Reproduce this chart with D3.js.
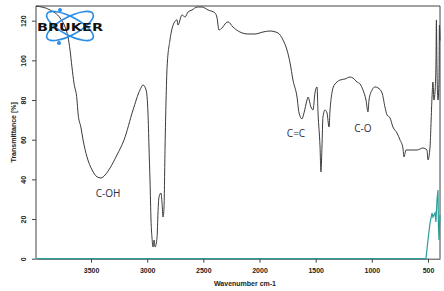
<!DOCTYPE html>
<html>
<head>
<meta charset="utf-8">
<script src="https://cdn.jsdelivr.net/npm/d3@7"></script>
<style>
  html, body { margin: 0; padding: 0; background: #fff; }
  svg { display: block; }
</style>
</head>
<body>
<div id="chart"></div>
<script>
// ---- data ----
const sampleWn = [3990, 3865, 3776, 3731, 3705, 3687, 3670, 3652, 3625, 3616, 3589, 3571, 3536, 3491, 3447, 3411,
  3375, 3331, 3269, 3206, 3126, 3064, 3037, 3010, 2993, 2984, 2975, 2966, 2957, 2948, 2939, 2930, 2912, 2904, 2895,
  2877, 2868, 2859, 2850, 2841, 2832, 2823, 2797, 2761, 2734, 2726, 2690, 2663, 2636, 2601, 2556, 2512, 2458, 2396,
  2378, 2361, 2334, 2298, 2280, 2236, 2174, 2102, 2040, 1969, 1907, 1835, 1791, 1755, 1728, 1702, 1666, 1648, 1622,
  1604, 1577, 1568, 1542, 1524, 1506, 1488, 1479, 1461, 1453, 1444, 1435, 1417, 1399, 1381, 1372, 1355, 1346, 1310,
  1283, 1239, 1194, 1168, 1132, 1105, 1079, 1052, 1034, 1025, 998, 972, 945, 909, 883, 865, 838, 812, 776, 749, 723,
  714, 696, 660, 598, 545, 509, 500, 482, 464, 456, 447, 438, 429, 425, 420, 411, 402, 398, 393];
const sampleT = [127.4, 125.4, 121.4, 116.8, 111.8, 105.2, 96.7, 88.6, 80.0, 73.5, 65.9, 59.9, 51.3, 44.8, 41.3, 40.7,
  42.2, 45.7, 52.3, 59.9, 75.0, 85.1, 87.6, 85.1, 73.5, 56.3, 39.7, 19.5, 10.4, 5.9, 9.4, 5.9, 10.9, 23.0, 31.1,
  33.1, 28.1, 21.0, 26.1, 56.3, 80.0, 96.6, 110.3, 118.9, 120.4, 117.8, 122.9, 121.9, 124.4, 125.4, 126.9, 126.9, 125.4, 123.9,
  121.4, 115.3, 116.3, 118.9, 119.4, 116.8, 114.3, 113.3, 113.3, 114.3, 114.8, 113.8, 110.3, 105.2, 98.7, 90.1, 81.5, 73.5, 70.5,
  73.5, 80.0, 81.5, 76.5, 75.0, 83.6, 86.6, 73.5, 56.3, 43.7, 56.3, 71.5, 75.0, 73.5, 66.4, 75.0, 83.6, 86.1, 89.1,
  90.1, 90.6, 91.6, 91.1, 89.1, 88.1, 85.1, 80.0, 74.0, 80.0, 85.1, 86.6, 86.1, 83.6, 76.5, 72.5, 71.0, 66.4, 63.4, 59.9, 55.8,
  51.3, 54.8, 54.8, 54.8, 55.8, 54.8, 49.8, 56.3, 81.5, 89.1, 80.0, 83.6, 98.7, 120.4, 96.6, 80.0, 90.1, 117.8, 110.0];

const refWn = [3990, 518, 500, 482, 464, 456, 438, 429, 420, 411, 407, 402, 393];
const refT = [0, 0, 9.4, 18.0, 23.0, 21.0, 23.0, 18.5, 29.6, 34.6, 17.0, 9.4, 22.0];

const xTickValues = [3500, 3000, 2500, 2000, 1500, 1000, 500];
const yTickValues = [0, 20, 40, 60, 80, 100, 120];

const bandLabels = ["C-OH", "C=C", "C-O"];
const bandWn = [3349, 1675, 1079];
const bandT = [33.1, 63.4, 65.9];

// ---- layout ----
const width = 444, height = 291;
const plot = { left: 36, right: 440, top: 6, bottom: 258.7 };

const svg = d3.select("#chart").append("svg")
  .attr("width", width)
  .attr("height", height);

const x = d3.scaleLinear().domain([3990, 393]).range([plot.left, plot.right]);
const y = d3.scaleLinear().domain([0, 120]).range([plot.bottom, 20.7]);

const tickFont = "'Liberation Sans', Arial, sans-serif";

// frame (top + right)
svg.append("path")
  .attr("d", `M${plot.left},${plot.top}H${plot.right}V${plot.bottom}`)
  .attr("fill", "none")
  .attr("stroke", "#444")
  .attr("stroke-width", 1);

// y axis
const yAxis = svg.append("g")
  .attr("transform", `translate(${plot.left},0)`)
  .call(d3.axisLeft(y).tickValues(yTickValues).tickSize(4).tickSizeOuter(0));
yAxis.select(".domain").attr("stroke", "#444").attr("d", `M0,${plot.top}V${plot.bottom}`);
yAxis.selectAll(".tick line").attr("stroke", "#444");
yAxis.selectAll(".tick text")
  .attr("x", 0).attr("dy", 0)
  .attr("transform", "translate(-13,0) rotate(-90)")
  .attr("text-anchor", "middle")
  .attr("dominant-baseline", "central")
  .style("font-family", tickFont)
  .style("font-size", "7px")
  .style("font-weight", "bold")
  .attr("fill", "#222");

// x axis
const xAxis = svg.append("g")
  .attr("transform", `translate(0,${plot.bottom})`)
  .call(d3.axisBottom(x).tickValues(xTickValues).tickSize(4).tickSizeOuter(0).tickFormat(d3.format("d")));
xAxis.select(".domain").attr("stroke", "#444");
xAxis.selectAll(".tick line").attr("stroke", "#444");
xAxis.selectAll(".tick text")
  .attr("y", 9)
  .style("font-family", tickFont)
  .style("font-size", "7px")
  .style("font-weight", "bold")
  .attr("fill", "#222");

// axis titles
svg.append("text")
  .attr("x", (plot.left + plot.right) / 2 + 7)
  .attr("y", 286)
  .attr("text-anchor", "middle")
  .style("font-family", tickFont)
  .style("font-size", "7px")
  .style("font-weight", "bold")
  .attr("fill", "#222")
  .text("Wavenumber cm-1");

svg.append("text")
  .attr("transform", `translate(13,${(plot.top + plot.bottom) / 2}) rotate(-90)`)
  .attr("text-anchor", "middle")
  .attr("dominant-baseline", "central")
  .style("font-family", tickFont)
  .style("font-size", "7px")
  .style("font-weight", "bold")
  .attr("fill", "#222")
  .text("Transmittance [%]");

// spectra
const line = d3.line()
  .x((d, i) => x(d[0]))
  .y(d => y(d[1]));

svg.append("path")
  .datum(refWn.map((w, i) => [w, refT[i]]))
  .attr("fill", "none")
  .attr("stroke", "#2a9d9a")
  .attr("stroke-width", 1.2)
  .attr("d", line);

svg.append("path")
  .datum(sampleWn.map((w, i) => [w, sampleT[i]]))
  .attr("fill", "none")
  .attr("stroke", "#3a3a3a")
  .attr("stroke-width", 1)
  .attr("stroke-linejoin", "round")
  .attr("d", line.curve(d3.curveMonotoneX));

// band annotations
svg.selectAll(".band")
  .data(bandLabels)
  .join("text")
  .attr("class", "band")
  .attr("x", (d, i) => x(bandWn[i]))
  .attr("y", (d, i) => y(bandT[i]))
  .attr("text-anchor", "middle")
  .attr("dominant-baseline", "central")
  .style("font-family", "'Open Sans', 'DejaVu Sans', sans-serif")
  .style("font-size", "10px")
  .attr("fill", "#2e2e40")
  .text(d => d);

// BRUKER logo (top-left corner)
const logo = svg.append("g").attr("transform", "translate(70,26)");
[-28, 28].forEach(a => {
  logo.append("ellipse")
    .attr("rx", 26).attr("ry", 9)
    .attr("transform", `rotate(${a})`)
    .attr("fill", "none")
    .attr("stroke", "#2b8ce6")
    .attr("stroke-width", 1.6);
});
[[-10, -16], [-11, 17]].forEach(p => {
  logo.append("circle")
    .attr("cx", p[0]).attr("cy", p[1]).attr("r", 2)
    .attr("fill", "#2b8ce6");
});
logo.append("text")
  .attr("x", -33).attr("y", 4.5)
  .attr("textLength", 66)
  .attr("lengthAdjust", "spacingAndGlyphs")
  .style("font-family", "'DejaVu Sans', sans-serif")
  .style("font-size", "11px")
  .style("font-weight", "bold")
  .attr("fill", "#111")
  .text("BRUKER");
</script>
</body>
</html>
